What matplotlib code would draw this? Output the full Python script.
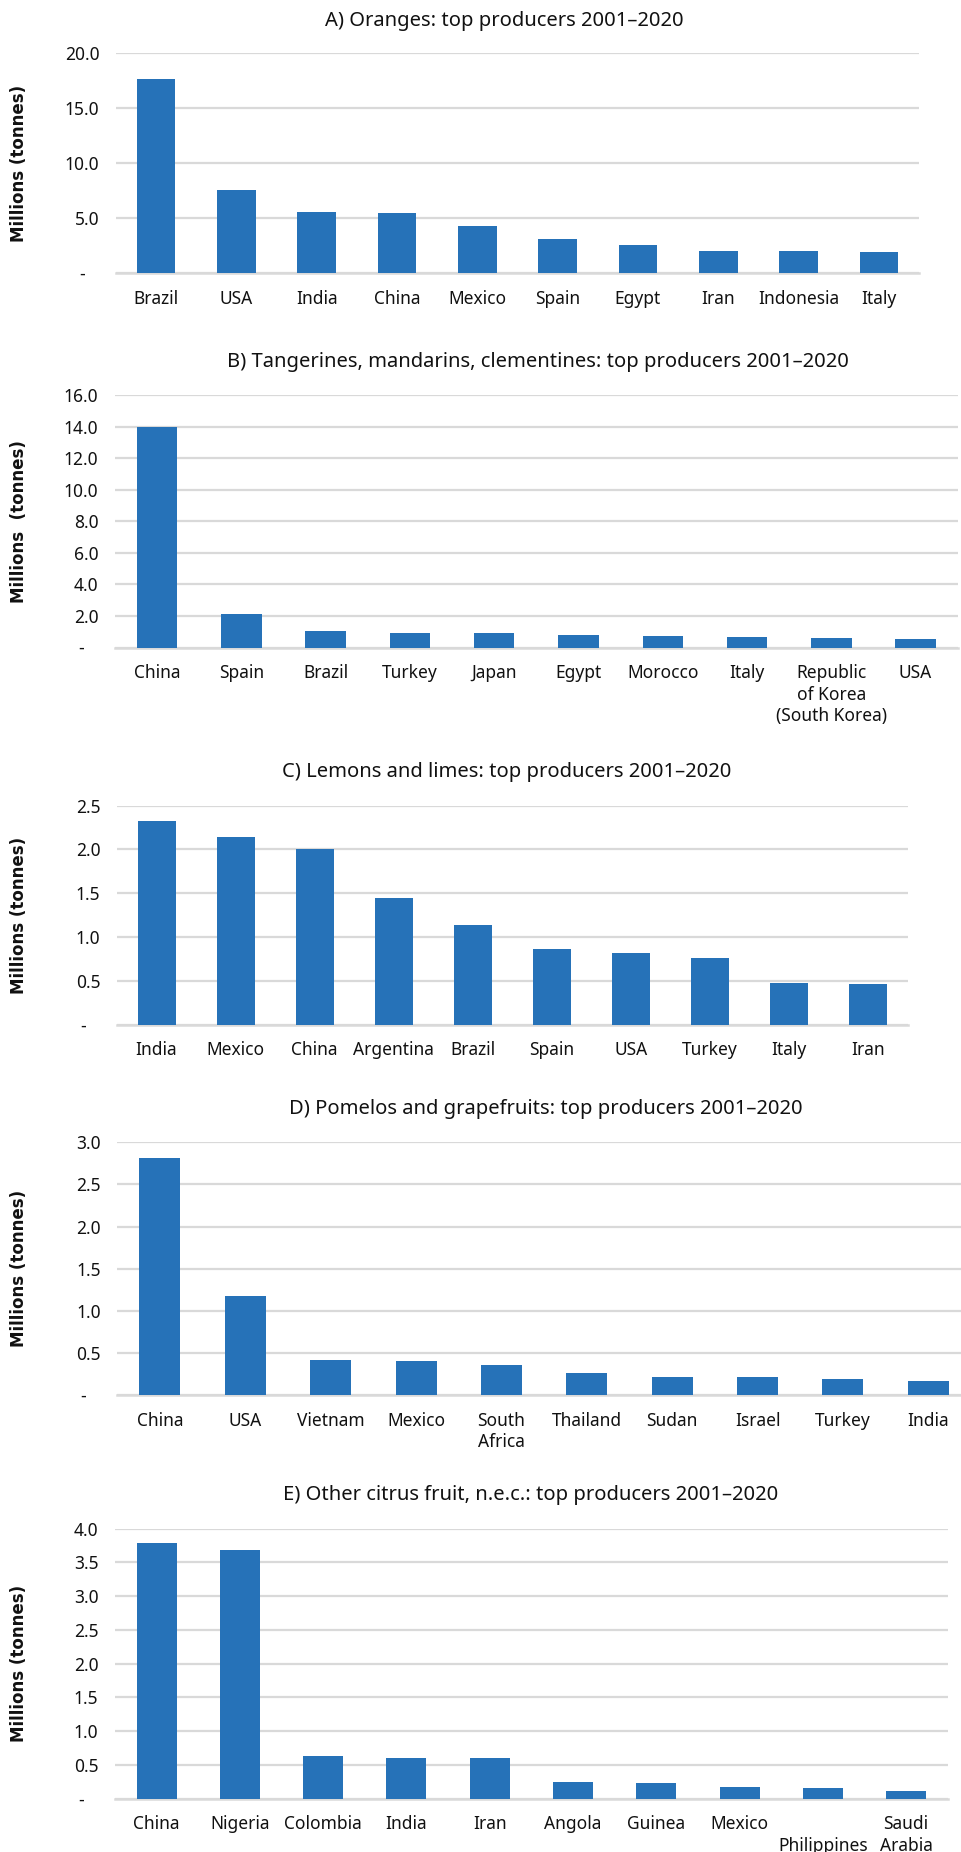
import matplotlib
matplotlib.use("Agg")
import matplotlib.pyplot as plt
from matplotlib.ticker import FixedLocator, FuncFormatter

plt.rcParams['font.family'] = ['Noto Sans', 'DejaVu Sans']

# ---- data (millions of tonnes, average 2001-2020) ----
oranges_countries = ["Brazil", "USA", "India", "China", "Mexico", "Spain",
                     "Egypt", "Iran", "Indonesia", "Italy"]
oranges_values = [17.70, 7.57, 5.53, 5.47, 4.26, 3.07, 2.52, 2.04, 2.00, 1.91]

tangerine_countries = ["China", "Spain", "Brazil", "Turkey", "Japan", "Egypt",
                       "Morocco", "Italy", "Republic\nof Korea\n(South Korea)", "USA"]
tangerine_values = [13.97, 2.15, 1.05, 0.93, 0.89, 0.78, 0.70, 0.65, 0.63, 0.57]

lemon_countries = ["India", "Mexico", "China", "Argentina", "Brazil", "Spain",
                   "USA", "Turkey", "Italy", "Iran"]
lemon_values = [2.33, 2.14, 2.00, 1.44, 1.14, 0.86, 0.815, 0.755, 0.47, 0.465]

pomelo_countries = ["China", "USA", "Vietnam", "Mexico", "South\nAfrica", "Thailand",
                    "Sudan", "Israel", "Turkey", "India"]
pomelo_values = [2.81, 1.17, 0.416, 0.40, 0.353, 0.258, 0.218, 0.214, 0.194, 0.166]

other_countries = ["China", "Nigeria", "Colombia", "India", "Iran", "Angola",
                   "Guinea", "Mexico", "\nPhilippines", "Saudi\nArabia"]
other_values = [3.79, 3.69, 0.627, 0.607, 0.597, 0.242, 0.227, 0.173, 0.163, 0.109]

titles = [
    "A) Oranges: top producers 2001\u20132020",
    "B) Tangerines, mandarins, clementines: top producers 2001\u20132020",
    "C) Lemons and limes: top producers 2001\u20132020",
    "D) Pomelos and grapefruits: top producers 2001\u20132020",
    "E) Other citrus fruit, n.e.c.: top producers 2001\u20132020",
]
ylabels = ["Millions (tonnes)", "Millions  (tonnes)", "Millions (tonnes)",
           "Millions (tonnes)", "Millions (tonnes)"]
yticks = [
    [0, 5, 10, 15, 20],
    [0, 2, 4, 6, 8, 10, 12, 14, 16],
    [0, 0.5, 1.0, 1.5, 2.0, 2.5],
    [0, 0.5, 1.0, 1.5, 2.0, 2.5, 3.0],
    [0, 0.5, 1.0, 1.5, 2.0, 2.5, 3.0, 3.5, 4.0],
]

panels = [
    (oranges_countries, oranges_values),
    (tangerine_countries, tangerine_values),
    (lemon_countries, lemon_values),
    (pomelo_countries, pomelo_values),
    (other_countries, other_values),
]

# ---- layout in pixels (left, right, top, bottom) ----
W, H = 962, 1852
boxes = [
    (116, 919, 53.3, 273),
    (115, 957.7, 395, 647.5),
    (117, 907.7, 805.7, 1024.5),
    (117.3, 971, 1142.3, 1395),
    (115, 947.7, 1528.7, 1798.7),
]
title_pos = [(504, 21), (538, 362), (507, 772), (546, 1109), (531, 1495)]

BAR = "#2672b8"
GRID = "#d9d9d9"
TEXT = "#111111"

fig = plt.figure(figsize=(W / 100, H / 100), dpi=100)


def tick_fmt(v, pos):
    if abs(v) < 1e-9:
        return "-   "
    return f"{v:.1f}"


for i, ((cats, vals), (l, r, t, b)) in enumerate(zip(panels, boxes)):
    ax = fig.add_axes([l / W, 1 - b / H, (r - l) / W, (b - t) / H])
    x = range(len(cats))
    ax.bar(x, vals, width=0.48, color=BAR, zorder=3)
    ax.set_xlim(-0.5, len(cats) - 0.5)
    ax.set_ylim(0, yticks[i][-1])
    ax.yaxis.set_major_locator(FixedLocator(yticks[i]))
    ax.yaxis.set_major_formatter(FuncFormatter(tick_fmt))
    ax.set_xticks(list(x))
    ax.set_xticklabels(cats, linespacing=1.25)
    ax.tick_params(axis='both', length=0, labelsize=12.5, colors=TEXT)
    ax.tick_params(axis='y', pad=12)
    ax.tick_params(axis='x', pad=12)
    ax.grid(axis='y', color=GRID, linewidth=1.6, zorder=0)
    ax.set_axisbelow(True)
    for side in ("top", "right", "left"):
        ax.spines[side].set_visible(False)
    ax.spines["bottom"].set_color(GRID)
    ax.spines["bottom"].set_linewidth(1.8)
    ax.spines["bottom"].set_zorder(2)

    fig.text(title_pos[i][0] / W, 1 - title_pos[i][1] / H, titles[i],
             ha='center', va='center', fontsize=14.5, color=TEXT)
    fig.text(19 / W, 1 - ((t + b) / 2) / H, ylabels[i], rotation=90,
             ha='center', va='center', fontsize=12, fontweight='bold',
             family='DejaVu Sans', color=TEXT)

fig.savefig("out.png", dpi=100, facecolor="white")
